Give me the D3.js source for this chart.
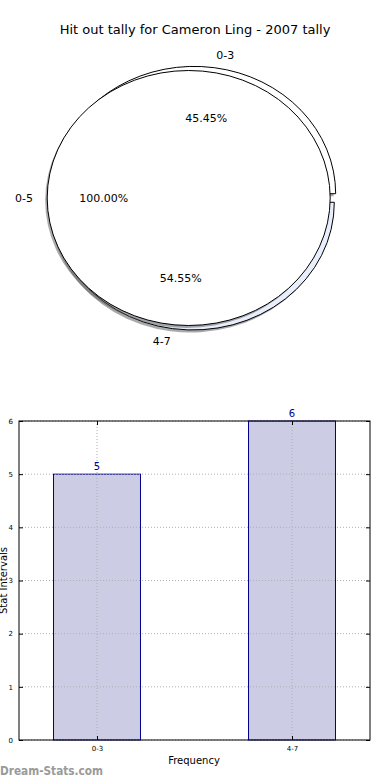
<!DOCTYPE html>
<html><head><meta charset="utf-8">
<script src="https://d3js.org/d3.v7.min.js"></script>
<style>
html,body{margin:0;padding:0;background:#fff;}
svg{display:block;font-family:"DejaVu Sans",sans-serif;}
</style></head>
<body>
<script>
const title = "Hit out tally for Cameron Ling - 2007 tally";
const pieOuterLabels = ["0-3", "4-7"];
const pieOuterValues = [5, 6];
const pieOuterColors = ["#ffffff", "#e8eefc"];
const pieInnerLabels = ["0-5"];
const pieInnerValues = [11];
const barCategories = ["0-3", "4-7"];
const barValues = [5, 6];
const yTicks = [0, 1, 2, 3, 4, 5, 6];
const xLabel = "Frequency";
const yLabel = "Stat Intervals";
const watermark = "Dream-Stats.com";

const W = 390, H = 780;
const svg = d3.select("body").append("svg").attr("width", W).attr("height", H);

svg.append("text").attr("x", 195).attr("y", 34).attr("text-anchor", "middle")
  .attr("font-size", 13).attr("fill", "#000").text(title);

// ---------- Pie ----------
const cx = 193.5, cy = 198, rx = 141.5, ry = 127.5, explode = 0.034;

function drawPie(values, colors, withShadow) {
  const pie = d3.pie().sort(null).startAngle(Math.PI / 2).endAngle(Math.PI / 2 - 2 * Math.PI);
  const arcs = pie(values);
  const sum = d3.sum(values);
  const arc = d3.arc().innerRadius(0).outerRadius(1);
  arcs.forEach((a) => {
    const mid = (a.startAngle + a.endAngle) / 2;
    const ux = Math.sin(mid), uy = -Math.cos(mid);
    const ox = cx + explode * rx * ux, oy = cy + explode * ry * uy;
    if (withShadow) {
      svg.append("path").attr("d", arc(a))
        .attr("transform", `translate(${ox - 2},${oy + 2.5}) scale(${rx},${ry})`)
        .attr("fill", "#555").attr("opacity", 0.5).attr("stroke", "none");
    }
    a._o = [ox, oy, ux, uy, sum];
  });
  arcs.forEach((a, i) => {
    const [ox, oy] = a._o;
    svg.append("path").attr("d", arc(a))
      .attr("transform", `translate(${ox},${oy}) scale(${rx},${ry})`)
      .attr("fill", colors[i % colors.length]).attr("stroke", "#000")
      .attr("stroke-width", 1).attr("vector-effect", "non-scaling-stroke");
  });
  return arcs;
}

function drawPieLabels(arcs, labels) {
  arcs.forEach((a, i) => {
    const [ox, oy, ux, uy, sum] = a._o;
    const lx = ox + 1.1 * rx * ux, ly = oy + 1.1 * ry * uy;
    const anchor = Math.abs(ux) < 1e-6 ? "middle" : (ux > 0 ? "start" : "end");
    svg.append("text").attr("x", lx).attr("y", ly).attr("dy", "0.35em")
      .attr("text-anchor", anchor).attr("font-size", 11).text(labels[i]);
    const px = ox + 0.6 * rx * ux, py = oy + 0.6 * ry * uy;
    svg.append("text").attr("x", px).attr("y", py).attr("dy", "0.35em")
      .attr("text-anchor", "middle").attr("font-size", 11)
      .text((a.value / sum * 100).toFixed(2) + "%");
  });
}

const outerArcs = drawPie(pieOuterValues, pieOuterColors, true);
const innerArcs = drawPie(pieInnerValues, ["#ffffff"], true);
drawPieLabels(outerArcs, pieOuterLabels);
drawPieLabels(innerArcs, pieInnerLabels);

// ---------- Bar chart ----------
const L = 19, R = 370, T = 421, B = 740;
const x = d3.scaleLinear().domain([-0.4, 1.4]).range([L, R]);
const y = d3.scaleLinear().domain([0, 6]).range([B, T]);
const bw = 0.446;
const g = svg.append("g");

barValues.forEach((v, i) => {
  g.append("rect").attr("x", x(i - bw / 2)).attr("y", y(v))
    .attr("width", x(i + bw / 2) - x(i - bw / 2)).attr("height", y(0) - y(v))
    .attr("fill", "#ccccE4").attr("stroke", "#00008b").attr("stroke-width", 1);
});

yTicks.forEach(t => {
  g.append("line").attr("x1", L).attr("x2", R).attr("y1", y(t)).attr("y2", y(t))
    .attr("stroke", "#b0b0b0").attr("stroke-dasharray", "1,2").attr("stroke-width", 1);
});
barCategories.forEach((c, i) => {
  g.append("line").attr("x1", x(i)).attr("x2", x(i)).attr("y1", T).attr("y2", B)
    .attr("stroke", "#b0b0b0").attr("stroke-dasharray", "1,2").attr("stroke-width", 1);
});

barValues.forEach((v, i) => {
  g.append("text").attr("x", x(i)).attr("y", y(v) - 4).attr("text-anchor", "middle")
    .attr("font-size", 10).attr("fill", "#00008b").text(v);
});

g.append("rect").attr("x", L).attr("y", T).attr("width", R - L).attr("height", B - T)
  .attr("fill", "none").attr("stroke", "#000").attr("stroke-width", 1);

const yAxis = d3.axisLeft(y).tickValues(yTicks).tickSize(-4).tickPadding(6).tickFormat(d3.format("d"));
const ya = svg.append("g").attr("transform", `translate(${L},0)`).call(yAxis);
ya.select(".domain").remove();
ya.selectAll("text").attr("font-size", 7).attr("font-family", "DejaVu Sans");
const yAxisR = d3.axisRight(y).tickValues(yTicks).tickSize(-4).tickFormat("");
const yr = svg.append("g").attr("transform", `translate(${R},0)`).call(yAxisR);
yr.select(".domain").remove();

const xAxis = d3.axisBottom(x).tickValues(barCategories.map((c, i) => i)).tickSize(-4).tickPadding(6)
  .tickFormat((d) => barCategories[d]);
const xa = svg.append("g").attr("transform", `translate(0,${B})`).call(xAxis);
xa.select(".domain").remove();
xa.selectAll("text").attr("font-size", 7).attr("font-family", "DejaVu Sans");
const xAxisT = d3.axisTop(x).tickValues(barCategories.map((c, i) => i)).tickSize(-4).tickFormat("");
const xt = svg.append("g").attr("transform", `translate(0,${T})`).call(xAxisT);
xt.select(".domain").remove();

svg.append("text").attr("x", 194).attr("y", 764).attr("text-anchor", "middle")
  .attr("font-size", 10).text(xLabel);
svg.append("text").attr("transform", `translate(7,${(T + B) / 2}) rotate(-90)`)
  .attr("text-anchor", "middle").attr("font-size", 10).text(yLabel);

svg.append("text").attr("x", 0).attr("y", 775).attr("font-size", 12)
  .attr("fill", "#9a9a9a").attr("font-weight", "bold").attr("textLength", 103)
  .attr("lengthAdjust", "spacingAndGlyphs").text(watermark);
</script>
</body></html>
